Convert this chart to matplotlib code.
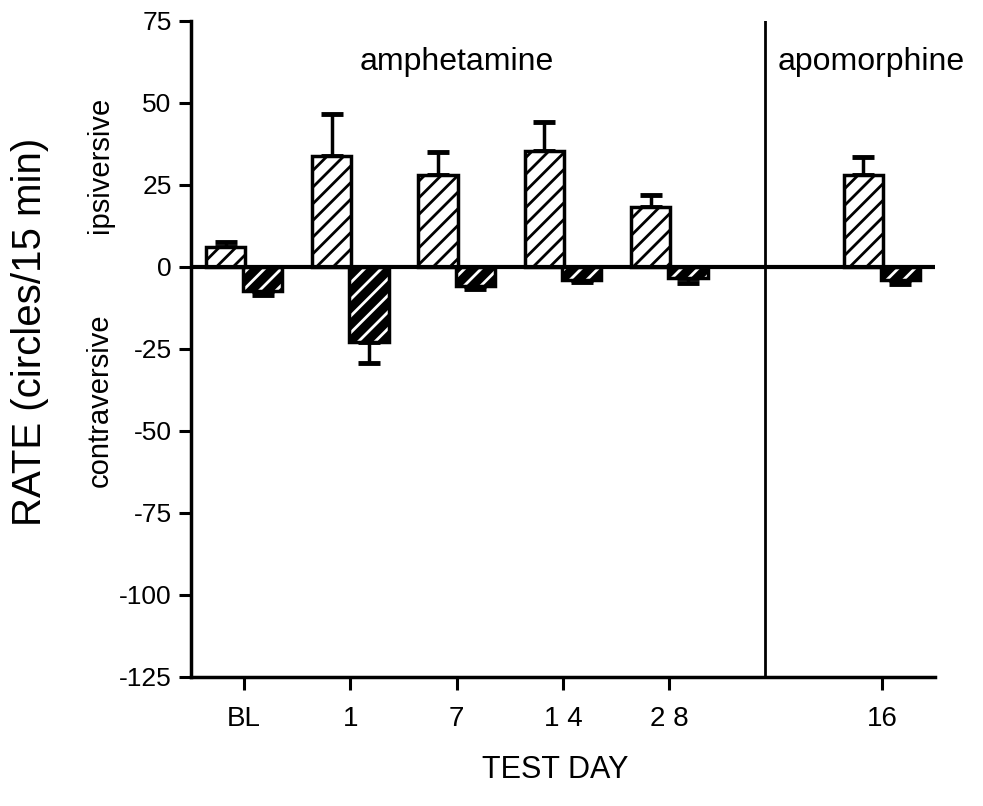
import numpy as np
import matplotlib
matplotlib.use("Agg")
import matplotlib.pyplot as plt

plt.rcParams['font.family'] = ['Liberation Sans', 'DejaVu Sans']
plt.rcParams['hatch.linewidth'] = 2.0

# test days (positions on the x axis) and tick labels
days = [0, 1, 2, 3, 4, 6]
day_labels = ['BL', '1', '7', '1 4', '2 8', '16']

# mean rate (circles / 15 min) and SEM
ipsi = [6.2, 33.8, 28.0, 35.5, 18.2, 28.0]
ipsi_err = [1.3, 12.7, 7.2, 8.6, 3.8, 5.4]
contra = [-7.2, -22.8, -5.7, -4.0, -3.5, -4.0]
contra_err = [1.3, 6.4, 1.0, 0.6, 1.5, 1.2]

yticks = [75, 50, 25, 0, -25, -50, -75, -100, -125]
divider = 4.9

fig = plt.figure(figsize=(9.83, 8.06), dpi=100)
ax = fig.add_axes([191/983, 1-677/806, (935-191)/983, (677-21)/806])

x = np.array(days, dtype=float)
w = 0.37
off = 0.175

# ipsiversive bars: white with black hatching
ax.bar(x - off, ipsi, w, facecolor='white', edgecolor='black', hatch='//',
       linewidth=2.5, zorder=3)
# contraversive bars: black with white hatching
ax.bar(x + off, contra, w, facecolor='black', edgecolor='white', hatch='//',
       linewidth=0, zorder=3)
ax.bar(x + off, contra, w, fill=False, edgecolor='black', linewidth=2.5, zorder=4)

ax.errorbar(x - off, ipsi, yerr=[np.zeros(len(ipsi)), ipsi_err], fmt='none',
            ecolor='black', elinewidth=2.5, capsize=8, capthick=3.5, zorder=2)
ax.errorbar(x + off, contra, yerr=[contra_err, np.zeros(len(contra))], fmt='none',
            ecolor='black', elinewidth=2.5, capsize=8, capthick=3.5, zorder=2)

ax.axhline(0, color='black', linewidth=3, zorder=5)
ax.axvline(divider, color='black', linewidth=2, zorder=5)

ax.set_xlim(-0.5, 6.5)
ax.set_ylim(-125, 75)

for s in ['top', 'right']:
    ax.spines[s].set_visible(False)
for s in ['left', 'bottom']:
    ax.spines[s].set_linewidth(2.5)

ax.set_yticks(yticks)
ax.set_yticklabels([str(v) for v in yticks], fontsize=19)
ax.set_xticks(days)
ax.set_xticklabels(day_labels, fontsize=20)
ax.tick_params(axis='both', direction='out', length=9, width=2.2)
ax.tick_params(axis='x', pad=12)
ax.tick_params(axis='y', pad=5)

ax.text(2.0, 62.5, 'amphetamine', ha='center', va='center', fontsize=23)
ax.text(5.9, 62.5, 'apomorphine', ha='center', va='center', fontsize=23)

fig.text(555/983, 1-770/806, 'TEST DAY', ha='center', va='center', fontsize=22)
fig.text(30/983, 1-332/806, 'RATE (circles/15 min)', rotation=90,
         ha='center', va='center', fontsize=29)
fig.text(100/983, 1-165/806, 'ipsiversive', rotation=90,
         ha='center', va='center', fontsize=21)
fig.text(100/983, 1-400/806, 'contraversive', rotation=90,
         ha='center', va='center', fontsize=21)

fig.savefig('out.png', dpi=100)
